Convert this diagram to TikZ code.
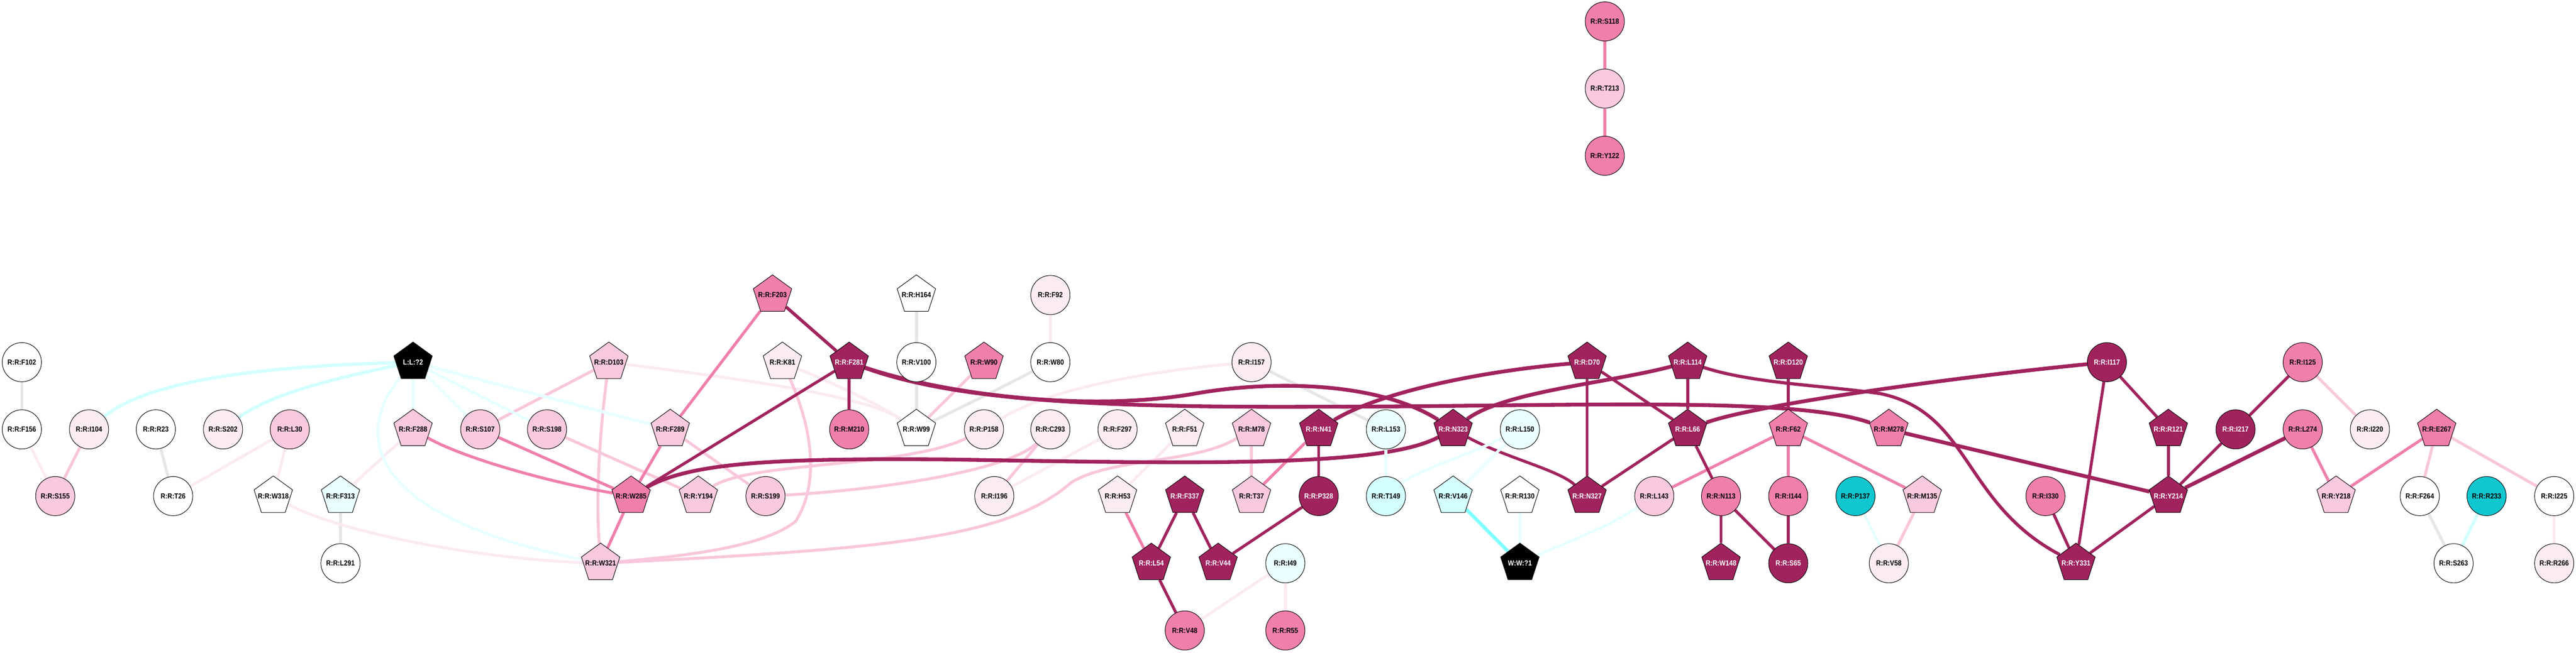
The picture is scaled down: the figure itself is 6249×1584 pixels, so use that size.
\documentclass[tikz,border=0pt]{standalone}
\usepackage{fontspec}
\setmainfont{Liberation Sans}[FakeStretch=0.88]
\usetikzlibrary{shapes.geometric,backgrounds}
\definecolor{cdark}{HTML}{A1235E}
\definecolor{cmed}{HTML}{F07FAB}
\definecolor{clt}{HTML}{F9C9DD}
\definecolor{cvl}{HTML}{FBEBF3}
\definecolor{ccy}{HTML}{10C6CF}
\definecolor{cvc}{HTML}{EAFFFF}
\definecolor{clc}{HTML}{D4FFFF}
\definecolor{egrey}{HTML}{E6E6E6}
\definecolor{evlp}{HTML}{FBEAF2}
\definecolor{elpk}{HTML}{F9C6DB}
\definecolor{ecya}{HTML}{D2FFFF}
\definecolor{ecyb}{HTML}{E8FFFF}
\definecolor{ecyc}{HTML}{80FFFF}
\newcommand{\zb}[1]{\makebox[0pt][c]{#1}}
\tikzset{
  nd/.style={draw=black, line width=0.35pt, inner sep=0pt, font=\fontsize{5.1}{6}\selectfont\bfseries},
  cir/.style={nd, circle, minimum size=0.95cm},
  pen/.style={nd, regular polygon, regular polygon sides=5, minimum size=0.98cm},
  fdk/.style={fill=cdark, text=white},
  fmd/.style={fill=cmed},
  flt/.style={fill=clt},
  fvl/.style={fill=cvl},
  fwh/.style={fill=white},
  fcy/.style={fill=ccy},
  fvc/.style={fill=cvc},
  flc/.style={fill=clc},
  fbk/.style={fill=black, text=white},
  eg/.style={draw=egrey, line width=2pt},
  evl/.style={draw=evlp, line width=2pt},
  elp/.style={draw=elpk, line width=2pt},
  emd/.style={draw=cmed, line width=2pt},
  edk/.style={draw=cdark, line width=2pt},
  edkt/.style={draw=cdark, line width=2.6pt},
  eca/.style={draw=ecya, line width=2.2pt},
  ecb/.style={draw=ecyb, line width=2pt},
  ecc/.style={draw=ecyc, line width=2.4pt},
}
\begin{document}
\begin{tikzpicture}[x=0.01cm, y=-0.01cm]
\useasboundingbox (0,0) rectangle (6249,1584);
% top cluster
\node[cir,fmd] (S118) at (3893,52) {R:R:S118};
\node[cir,flt] (T213) at (3893,215) {R:R:T213};
\node[cir,fmd] (Y122) at (3893,378) {R:R:Y122};
% row 716
\node[pen,fmd] (F203) at (1874,716) {\zb{R:R:F203}};
\node[pen,fwh] (H164) at (2223,716) {\zb{R:R:H164}};
\node[cir,fvl] (F92) at (2548,716) {R:R:F92};
% row 879
\node[cir,fwh] (F102) at (53,879) {R:R:F102};
\node[pen,fbk] (L2) at (1002,879) {\zb{L:L:?2}};
\node[pen,flt] (D103) at (1477,879) {\zb{R:R:D103}};
\node[pen,fvl] (K81) at (1898,879) {\zb{R:R:K81}};
\node[pen,fdk] (F281) at (2060,879) {\zb{R:R:F281}};
\node[cir,fwh] (V100) at (2223,879) {R:R:V100};
\node[pen,fmd] (W90) at (2387,879) {\zb{R:R:W90}};
\node[cir,fwh] (W80) at (2548,879) {R:R:W80};
\node[cir,fvl] (I157) at (3036,879) {R:R:I157};
\node[pen,fdk] (D70) at (3850,879) {\zb{R:R:D70}};
\node[pen,fdk] (L114) at (4094,879) {\zb{R:R:L114}};
\node[pen,fdk] (D120) at (4338,879) {\zb{R:R:D120}};
\node[cir,fdk] (I117) at (5111,879) {R:R:I117};
\node[cir,fmd] (I125) at (5586,879) {R:R:I125};
% row 1042
\node[cir,fwh] (F156) at (53,1042) {R:R:F156};
\node[cir,fvl] (I104) at (216,1042) {R:R:I104};
\node[cir,fwh] (R23) at (378,1042) {R:R:R23};
\node[cir,fvl] (S202) at (541,1042) {R:R:S202};
\node[cir,flt] (L30) at (703,1042) {R:R:L30};
\node[pen,flt] (F288) at (1002,1042) {\zb{R:R:F288}};
\node[cir,flt] (S107) at (1165,1042) {R:R:S107};
\node[cir,flt] (S198) at (1327,1042) {R:R:S198};
\node[pen,flt] (F289) at (1626,1042) {\zb{R:R:F289}};
\node[cir,fmd] (M210) at (2060,1042) {R:R:M210};
\node[pen,fwh] (W99) at (2223,1042) {\zb{R:R:W99}};
\node[cir,fvl] (P158) at (2387,1042) {R:R:P158};
\node[cir,fvl] (C293) at (2548,1042) {R:R:C293};
\node[cir,fvl] (F297) at (2711,1042) {R:R:F297};
\node[pen,fvl] (F51) at (2874,1042) {\zb{R:R:F51}};
\node[pen,flt] (M78) at (3036,1042) {\zb{R:R:M78}};
\node[pen,fdk] (N41) at (3199,1042) {\zb{R:R:N41}};
\node[cir,fvc] (L153) at (3362,1042) {R:R:L153};
\node[pen,fdk] (N323) at (3525,1042) {\zb{R:R:N323}};
\node[cir,fvc] (L150) at (3687,1042) {R:R:L150};
\node[pen,fdk] (L66) at (4094,1042) {\zb{R:R:L66}};
\node[pen,fmd] (F62) at (4338,1042) {\zb{R:R:F62}};
\node[pen,fmd] (M278) at (4582,1042) {\zb{R:R:M278}};
\node[pen,fdk] (R121) at (5260,1042) {\zb{R:R:R121}};
\node[cir,fdk] (I217) at (5423,1042) {R:R:I217};
\node[cir,fmd] (L274) at (5586,1042) {R:R:L274};
\node[cir,fvl] (I220) at (5749,1042) {R:R:I220};
\node[pen,fmd] (E267) at (5911,1042) {\zb{R:R:E267}};
% row 1204
\node[cir,flt] (S155) at (134,1204) {R:R:S155};
\node[cir,fwh] (T26) at (420,1204) {R:R:T26};
\node[pen,fwh] (W318) at (663,1204) {\zb{R:R:W318}};
\node[pen,fvc] (F313) at (826,1204) {\zb{R:R:F313}};
\node[pen,fmd] (W285) at (1531,1204) {\zb{R:R:W285}};
\node[pen,flt] (Y194) at (1694,1204) {\zb{R:R:Y194}};
\node[cir,flt] (S199) at (1857,1204) {R:R:S199};
\node[cir,fvl] (I196) at (2412,1204) {R:R:I196};
\node[pen,fvl] (H53) at (2711,1204) {\zb{R:R:H53}};
\node[pen,fdk] (F337) at (2874,1204) {\zb{R:R:F337}};
\node[pen,flt] (T37) at (3036,1204) {\zb{R:R:T37}};
\node[cir,fdk] (P328) at (3199,1204) {R:R:P328};
\node[cir,flc] (T149) at (3362,1204) {R:R:T149};
\node[pen,flc] (V146) at (3525,1204) {\zb{R:R:V146}};
\node[pen,fwh] (R130) at (3687,1204) {\zb{R:R:R130}};
\node[pen,fdk] (N327) at (3850,1204) {\zb{R:R:N327}};
\node[cir,flt] (L143) at (4013,1204) {R:R:L143};
\node[cir,fmd] (N113) at (4175,1204) {R:R:N113};
\node[cir,fmd] (I144) at (4338,1204) {R:R:I144};
\node[cir,fcy] (P137) at (4501,1204) {R:R:P137};
\node[pen,flt] (M135) at (4663,1204) {\zb{R:R:M135}};
\node[cir,fmd] (I330) at (4962,1204) {R:R:I330};
\node[pen,fdk] (Y214) at (5260,1204) {\zb{R:R:Y214}};
\node[pen,flt] (Y218) at (5667,1204) {\zb{R:R:Y218}};
\node[cir,fwh] (F264) at (5870,1204) {R:R:F264};
\node[cir,fcy] (R233) at (6032,1204) {R:R:R233};
\node[cir,fwh] (I225) at (6196,1204) {R:R:I225};
% row 1367
\node[cir,fwh] (L291) at (826,1367) {R:R:L291};
\node[pen,flt] (W321) at (1457,1367) {\zb{R:R:W321}};
\node[pen,fdk] (L54) at (2793,1367) {\zb{R:R:L54}};
\node[pen,fdk] (V44) at (2955,1367) {\zb{R:R:V44}};
\node[cir,fvc] (I49) at (3118,1367) {R:R:I49};
\node[pen,fbk] (W1) at (3687,1367) {\zb{W:W:?1}};
\node[pen,fdk] (W148) at (4175,1367) {\zb{R:R:W148}};
\node[cir,fdk] (S65) at (4338,1367) {R:R:S65};
\node[cir,fvl] (V58) at (4582,1367) {R:R:V58};
\node[pen,fdk] (Y331) at (5036,1367) {\zb{R:R:Y331}};
\node[cir,fwh] (S263) at (5952,1367) {R:R:S263};
\node[cir,fvl] (R266) at (6196,1367) {R:R:R266};
% row 1530
\node[cir,fmd] (V48) at (2874,1530) {R:R:V48};
\node[cir,fmd] (R55) at (3118,1530) {R:R:R55};

\begin{scope}[on background layer]
% grey
\draw[eg] (F102)--(F156);
\draw[eg] (R23)--(T26);
\draw[eg] (F313)--(L291);
\draw[eg] (H164)--(V100);
\draw[eg] (V100)--(W99);
\draw[eg] (W80) .. controls (2420,945) .. (W99);
\draw[eg] (I157)--(L153);
\draw[eg] (F264)--(S263);
% very light pink
\draw[evl] (F156)--(S155);
\draw[evl] (L30)--(T26);
\draw[evl] (L30)--(W318);
\draw[evl] (F288)--(F313);
\draw[evl] (W318) .. controls (820,1290) and (1150,1355) .. (W321);
\draw[evl] (D103) .. controls (1800,920) and (2100,960) .. (W99);
\draw[evl] (K81) .. controls (2020,930) and (2130,980) .. (W99);
\draw[evl] (F92)--(W80);
\draw[evl] (I157) .. controls (2800,900) and (2550,940) .. (P158);
\draw[evl] (F297)--(I196);
\draw[evl] (F51)--(H53);
\draw[evl] (I49)--(V48);
\draw[evl] (I49)--(R55);
\draw[evl] (I225)--(R266);
% light pink
\draw[elp] (I104)--(S155);
\draw[elp] (D103)--(S107);
\draw[elp] (D103) .. controls (1455,1050) and (1445,1200) .. (W321);
\draw[elp] (K81) .. controls (1975,1050) and (1985,1180) .. (1930,1265) .. controls (1850,1330) and (1650,1350) .. (W321);
\draw[elp] (F289)--(S199);
\draw[elp] (S198)--(Y194);
\draw[elp] (Y194) .. controls (1820,1120) and (2200,1135) .. (P158);
\draw[elp] (S199) .. controls (2150,1188) and (2450,1140) .. (C293);
\draw[elp] (W321) .. controls (2200,1330) and (2450,1300) .. (2600,1170) .. controls (2700,1110) and (2900,1125) .. (M78);
\draw[elp] (C293)--(I196);
\draw[elp] (M78)--(T37);
\draw[elp] (W90)--(W99);
\draw[elp] (M135)--(V58);
\draw[elp] (I125)--(I220);
\draw[elp] (E267)--(F264);
\draw[elp] (E267)--(I225);
% medium pink
\draw[emd] (S118)--(T213);
\draw[emd] (T213)--(Y122);
\draw[emd] (F203)--(F289);
\draw[emd] (F289)--(W285);
\draw[emd] (S107)--(W285);
\draw[emd] (F288) .. controls (1120,1110) and (1330,1170) .. (W285);
\draw[emd] (W285)--(W321);
\draw[emd] (N41)--(T37);
\draw[emd] (H53)--(L54);
\draw[emd] (F62)--(L143);
\draw[emd] (F62)--(I144);
\draw[emd] (F62)--(M135);
\draw[emd] (L274)--(Y218);
\draw[emd] (E267)--(Y218);
% dark
\draw[edk, line width=2.2pt] (F203)--(F281);
\draw[edk] (F281)--(W285);
\draw[edk] (F281)--(M210);
\draw[edkt] (F281) .. controls (2300,965) and (2600,990) .. (3200,987) .. controls (3800,987) and (4350,960) .. (M278);
\draw[edkt] (F281) .. controls (2300,960) and (2650,1000) .. (2900,955) .. controls (3100,920) and (3350,930) .. (N323);
\draw[edkt] (W285) .. controls (1680,1120) and (1900,1112) .. (2300,1115) .. controls (2900,1125) and (3350,1135) .. (N323);
\draw[edkt] (D70) .. controls (3600,900) and (3350,950) .. (N41);
\draw[edkt] (L114) .. controls (3900,930) and (3650,950) .. (N323);
\draw[edk] (D70)--(L66);
\draw[edk] (D70)--(N327);
\draw[edk] (L114)--(L66);
\draw[edk] (L66)--(N327);
\draw[edk] (N323) .. controls (3650,1110) and (3780,1140) .. (N327);
\draw[edk, line width=2.2pt] (L114) .. controls (4250,930) and (4420,935) .. (4560,955) .. controls (4780,1000) and (4760,1220) .. (Y331);
\draw[edkt] (L66) .. controls (4250,985) and (4700,920) .. (I117);
\draw[edk] (L66)--(N113);
\draw[edk] (N41)--(P328);
\draw[edk] (P328)--(V44);
\draw[edk] (F337)--(L54);
\draw[edk] (F337)--(V44);
\draw[edk] (L54)--(V48);
\draw[edk] (D120)--(F62);
\draw[edk] (I144)--(S65);
\draw[edk] (N113)--(S65);
\draw[edk] (N113)--(W148);
\draw[edkt] (M278)--(Y214);
\draw[edk] (I117)--(R121);
\draw[edk] (I117)--(Y331);
\draw[edk] (R121)--(Y214);
\draw[edk] (I217)--(Y214);
\draw[edkt] (L274)--(Y214);
\draw[edk] (Y214)--(Y331);
\draw[edk] (I330)--(Y331);
\draw[edk] (I125)--(I217);
% cyan
\draw[eca] (L2) .. controls (600,890) and (350,930) .. (I104);
\draw[eca] (L2) .. controls (800,920) and (650,960) .. (S202);
\draw[ecb] (L2)--(F288);
\draw[ecb] (L2)--(S107);
\draw[ecb] (L2)--(S198);
\draw[ecb, line width=2.3pt] (L2)--(F289);
\draw[ecb] (L2) .. controls (860,1050) and (880,1250) .. (W321);
\draw[ecb] (L153)--(T149);
\draw[ecb] (L150) .. controls (3550,1110) and (3440,1140) .. (T149);
\draw[ecb] (L150)--(V146);
\draw[ecc] (V146)--(W1);
\draw[ecb] (R130)--(W1);
\draw[ecb] (L143) .. controls (3900,1280) and (3790,1320) .. (W1);
\draw[ecb] (P137)--(V58);
\draw[eca] (R233)--(S263);
\end{scope}
\end{tikzpicture}
\end{document}
